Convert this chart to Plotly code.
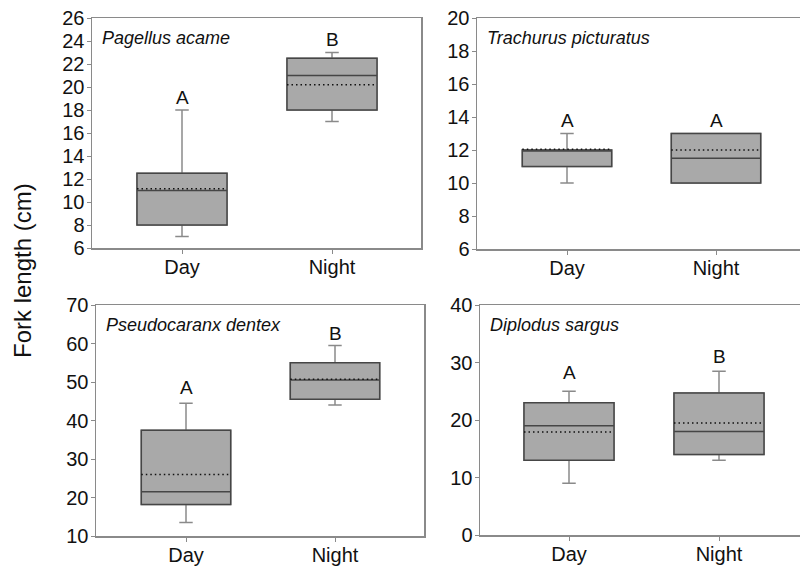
import plotly.graph_objects as go

# ---------------- data ----------------
categories = ["Day", "Night"]
species = ["Pagellus acame", "Trachurus picturatus", "Pseudocaranx dentex", "Diplodus sargus"]
lower = [[7, 17], [10, 10], [13.5, 44], [9, 13]]
q1 = [[8, 18], [11, 10], [18.2, 45.5], [13, 14]]
median = [[11, 21], [12, 11.5], [21.5, 50.5], [19, 18]]
q3 = [[12.5, 22.5], [12, 13], [37.5, 55], [23, 24.7]]
upper = [[18, 23], [13, 13], [44.5, 59.5], [25, 28.5]]
mean = [[11.15, 20.2], [12.05, 12.0], [26, 50.7], [17.9, 19.5]]
letters = [["A", "B"], ["A", "A"], ["A", "B"], ["A", "B"]]
letter_y = [[19.1, 24.1], [13.8, 13.8], [48.7, 62.7], [28.2, 31.1]]
y_ranges = [[6, 26], [6, 20], [10, 70], [0, 40]]
y_dtick = [2, 2, 10, 10]
y_title = "Fork length (cm)"

# ---------------- layout constants ----------------
W, H = 800, 568
BOX_W = 0.6
FONT = "Liberation Sans, Arial, Helvetica, sans-serif"
AXIS_COL = "#8a8a8a"
WHISK_COL = "#8a8a8a"
BOX_COL = "#464646"
FILL = "#a9a9a9"

# pixel boxes of each panel: (left, right, top, bottom), category pixel positions
panels_px = [
    (92, 421, 18, 248, 182, 332),
    (477, 800, 18, 249, 567, 716),
    (96, 424, 305, 536, 186, 335),
    (480, 800, 305, 535, 569, 719),
]

fig = go.Figure()
xs = list(range(len(categories)))

for p in range(4):
    n = p + 1
    xa = "x" if n == 1 else f"x{n}"
    ya = "y" if n == 1 else f"y{n}"
    # whiskers (light gray)
    fig.add_trace(go.Box(
        x=xs, q1=q1[p], median=median[p], q3=q3[p],
        lowerfence=lower[p], upperfence=upper[p],
        width=BOX_W, whiskerwidth=0.15,
        fillcolor=FILL, line=dict(color=WHISK_COL, width=1.5),
        boxpoints=False, showlegend=False, hoverinfo="skip",
        xaxis=xa, yaxis=ya,
    ))
    # box body (dark outline)
    fig.add_trace(go.Box(
        x=xs, q1=q1[p], median=median[p], q3=q3[p],
        lowerfence=q1[p], upperfence=q3[p],
        width=BOX_W, whiskerwidth=0,
        fillcolor=FILL, line=dict(color=BOX_COL, width=1.5),
        boxpoints=False, showlegend=False, hoverinfo="skip",
        xaxis=xa, yaxis=ya,
    ))
    # mean dotted lines
    mx, my = [], []
    for i, m in enumerate(mean[p]):
        mx += [i - BOX_W / 2, i + BOX_W / 2, None]
        my += [m, m, None]
    fig.add_trace(go.Scatter(
        x=mx, y=my, mode="lines",
        line=dict(color="#111111", width=1.5, dash="1.5px,3px"),
        showlegend=False, hoverinfo="skip", xaxis=xa, yaxis=ya,
    ))

    l, r, t, b, cd, cn = panels_px[p]
    unit = (cn - cd) / 1.0
    xr = [-(cd - l) / unit, (r - cd) / unit]
    right_panel = p in (1, 3)
    xkey = "xaxis" if n == 1 else f"xaxis{n}"
    ykey = "yaxis" if n == 1 else f"yaxis{n}"
    fig.update_layout(**{
        xkey: dict(
            domain=[l / W, r / W], range=xr, anchor=ya, automargin=False,
            tickvals=xs, ticktext=categories,
            showline=True, linecolor=AXIS_COL, linewidth=1.5, mirror=True,
            ticks="outside", ticklen=4, tickcolor=AXIS_COL, tickwidth=1,
            ticklabelstandoff=-4,
            tickfont=dict(size=20, color="#111111", family=FONT),
            showgrid=False, zeroline=False, fixedrange=True,
        ),
        ykey: dict(
            domain=[1 - b / H, 1 - t / H], range=y_ranges[p], anchor=xa,
            automargin=False, dtick=y_dtick[p], tick0=0,
            showline=True, linecolor=AXIS_COL, linewidth=1.5,
            mirror=(not right_panel),
            ticks="outside", ticklen=4, tickcolor=AXIS_COL, tickwidth=1,
            ticklabelstandoff=-2,
            tickfont=dict(size=20, color="#111111", family=FONT),
            showgrid=False, zeroline=False, fixedrange=True,
        ),
    })

    # species title
    dom_x = "x domain" if n == 1 else f"x{n} domain"
    dom_y = "y domain" if n == 1 else f"y{n} domain"
    fig.add_annotation(
        text=f"<i>{species[p]}</i>", xref=dom_x, yref=dom_y, x=0, y=1,
        xanchor="left", yanchor="top", xshift=8, yshift=-8, showarrow=False,
        font=dict(size=18, color="#111111", family=FONT),
    )
    # significance letters
    for i, (lt, ly) in enumerate(zip(letters[p], letter_y[p])):
        fig.add_annotation(
            text=lt, x=i, y=ly, xref=xa, yref=ya, showarrow=False,
            xanchor="center", yanchor="middle",
            font=dict(size=19, color="#111111", family=FONT),
        )

fig.add_annotation(
    text=y_title, xref="paper", yref="paper", x=22 / W, y=1 - 271 / H,
    textangle=-90, showarrow=False, xanchor="center", yanchor="middle",
    font=dict(size=24, color="#111111", family=FONT),
)

fig.update_layout(
    width=W, height=H, margin=dict(l=0, r=0, t=0, b=0, autoexpand=False),
    paper_bgcolor="white", plot_bgcolor="white",
    font=dict(family=FONT, color="#111111"),
    showlegend=False, boxmode="overlay",
)

fig.write_html(
    "out.html",
    config={"displayModeBar": False, "staticPlot": True},
    post_script="document.body.style.margin='0px';document.body.style.overflow='hidden';",
)
